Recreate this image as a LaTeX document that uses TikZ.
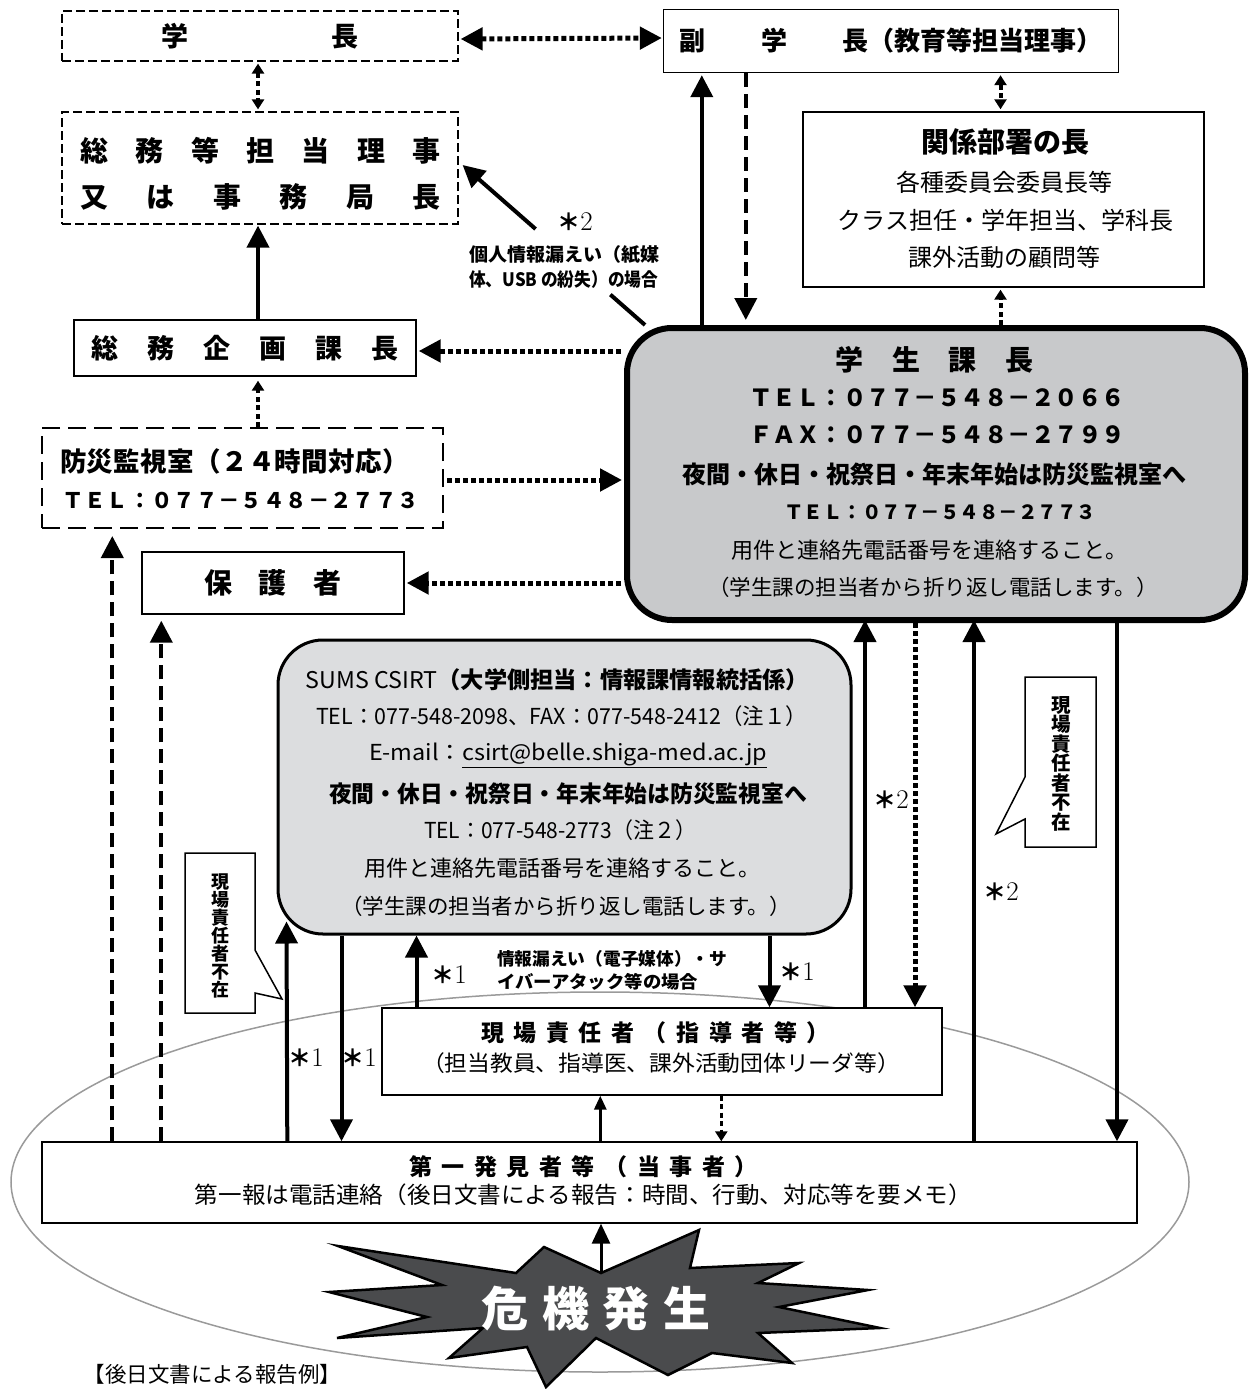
\documentclass[tikz,border=0pt]{standalone}
\usepackage{fontspec}
\usepackage{graphicx}
\setmainfont{Noto Sans CJK JP}
\newfontfamily\lmfont{Latin Modern Roman}
\usetikzlibrary{arrows.meta,calc,shapes.geometric}
\makeatletter
\newcommand\spreadit[2]{\makebox[#1][s]{\spr@first#2\relax}}
\def\spr@first#1{#1\spr@rest}
\def\spr@rest#1{\ifx#1\relax\else\hfill#1\expandafter\spr@rest\fi}
\makeatother
\newcommand\fz[1]{\fontsize{#1pt}{#1pt}\selectfont}
\newcommand\fitw[2]{\resizebox{#1}{\height}{#2}}
\newcommand\astlab[1]{{\bfseries\fz{23}＊}{\lmfont\fz{27}#1}}
\definecolor{gakgray}{HTML}{C8C9CB}
\definecolor{sumsgray}{HTML}{DCDDDF}
\definecolor{stargray}{HTML}{4A4B4D}
\definecolor{ellgray}{HTML}{9A9A9A}
\tikzset{
 sbox/.style={draw, line width=1.4pt, fill=white, inner sep=0pt},
 dbox/.style={draw, line width=1.2pt, dash pattern=on 9pt off 4pt, fill=white, inner sep=0pt},
 ddbox/.style={draw, line width=2pt, dash pattern=on 18pt off 8pt, fill=white, inner sep=0pt},
 txt/.style={inner sep=0pt, text=black},
 bighead/.style={-{Triangle[length=22pt,width=22pt]}},
 solidarr/.style={line width=4pt, bighead},
 dashedarr/.style={line width=4pt, dash pattern=on 14pt off 7pt, bighead},
 dotarr/.style={line width=5pt, dash pattern=on 5pt off 3pt, bighead},
 dotboth/.style={line width=5pt, dash pattern=on 5pt off 3pt, {Triangle[length=22pt,width=22pt]}-{Triangle[length=22pt,width=22pt]}},
 smalldot/.style={line width=4pt, dash pattern=on 5pt off 3.5pt, -{Triangle[length=10pt,width=12pt]}},
 smalldotboth/.style={line width=4pt, dash pattern=on 5pt off 3.5pt, {Triangle[length=10pt,width=12pt]}-{Triangle[length=10pt,width=12pt]}},
 thinarr/.style={line width=3pt, -{Triangle[length=14pt,width=12pt]}},
 callout/.style={draw, line width=1.5pt, fill=white},
 vtxt/.style={inner sep=0pt, align=center},
 ast/.style={inner sep=0pt},
}
\begin{document}
\begin{tikzpicture}[x=1pt,y=-1pt]
\useasboundingbox (0,0) rectangle (1249,1389);

% ellipse
\node[ellipse, draw=ellgray, line width=1.5pt, minimum width=1178pt, minimum height=380pt, inner sep=0pt] (ell) at (600,1182) {};

% boxes
\node[dbox, minimum width=396pt, minimum height=50pt, font={\fz{27}\bfseries}] (gakucho) at (260,36) {学\hspace{143pt}長};
\node[sbox, minimum width=455pt, minimum height=63pt, font={\fz{26}\bfseries}] (fuku) at (891,41) {副\hspace{56pt}学\hspace{55pt}長（教育等担当理事）};

\node[dbox, minimum width=396pt, minimum height=112pt] (riji) at (260,168) {};
\node[txt, font={\fz{28}\bfseries}] (riji1) at (260.5,151) {\spreadit{360pt}{総務等担当理事}};
\node[txt, font={\fz{28}\bfseries}] (riji2) at (260.5,197) {\spreadit{360pt}{又は事務局長}};

\node[sbox, minimum width=401pt, minimum height=175pt] (kankei) at (1003.5,199.5) {};
\node[txt, font={\fz{28}\bfseries}] (kk1) at (1005,142) {関係部署の長};
\node[txt, font={\fz{24}}] (kk2) at (1004.5,182) {各種委員会委員長等};
\node[txt, font={\fz{24}}] (kk3) at (1005.5,220) {クラス担任・学年担当、学科長};
\node[txt, font={\fz{24}}] (kk4) at (1004.5,257) {課外活動の顧問等};

\node[sbox, minimum width=342pt, minimum height=56pt, font={\fz{27}\bfseries}] (kikaku) at (245,348) {\spreadit{308pt}{総務企画課長}};

\node[ddbox, minimum width=401pt, minimum height=100pt] (bosai) at (242.5,478) {};
\node[txt, font={\fz{26.5}\bfseries}] (bs1) at (234.5,461) {\spreadit{349pt}{防災監視室（２４時間対応）}};
\node[txt, font={\fz{21.5}\bfseries}] (bs2) at (240.5,500) {\spreadit{357pt}{ＴＥＬ：０７７－５４８－２７７３}};

\node[sbox, minimum width=262pt, minimum height=62pt, font={\fz{28}\bfseries}] (hogo) at (273,583) {\spreadit{138pt}{保護者}};

% gakusei-ka
\node[draw, line width=6pt, fill=gakgray, rounded corners=45pt, minimum width=618pt, minimum height=292pt, inner sep=0pt] (gak) at (936,474) {};
\node[txt, font={\fz{28}\bfseries}] (g1) at (934.5,360) {\spreadit{198pt}{学生課長}};
\node[txt, font={\fz{23.5}\bfseries}] (g2) at (936,398) {\spreadit{374pt}{ＴＥＬ：０７７－５４８－２０６６}};
\node[txt, font={\fz{23.5}\bfseries}] (g3) at (936,435) {\spreadit{374pt}{ＦＡＸ：０７７－５４８－２７９９}};
\node[txt, font={\fz{24}\bfseries}] (g4) at (934,474) {夜間・休日・祝祭日・年末年始は防災監視室へ};
\node[txt, font={\fz{19.5}\bfseries}] (g5) at (935.5,512) {\spreadit{303pt}{ＴＥＬ：０７７－５４８－２７７３}};
\node[txt, font={\fz{22}}] (g6) at (929,550) {用件と連絡先電話番号を連絡すること。};
\node[txt, font={\fz{21.5}}] (g7) at (933,587) {（学生課の担当者から折り返し電話します。）};

% SUMS CSIRT
\node[draw, line width=3pt, fill=sumsgray, rounded corners=45pt, minimum width=573pt, minimum height=294pt, inner sep=0pt] (sums) at (564.5,787) {};
\node[txt, font={\fz{23}}] (s1) at (557.5,680) {\fitw{503pt}{SUMS CSIRT{\bfseries（大学側担当：情報課情報統括係）}}};
\node[txt, font={\fz{22}}] (s2) at (561.5,716) {\fitw{491pt}{TEL：077-548-2098、FAX：077-548-2412（注１）}};
\node[txt, font={\fz{22}}] (s3) at (568,755) {\fitw{398pt}{E-mail：\underline{csirt@belle.shiga-med.ac.jp}}};
\node[txt, font={\fz{23}\bfseries}] (s4) at (568,794) {\fitw{478pt}{夜間・休日・祝祭日・年末年始は防災監視室へ}};
\node[txt, font={\fz{22}}] (s5) at (560,830) {\fitw{272pt}{TEL：077-548-2773（注２）}};
\node[txt, font={\fz{22}}] (s6) at (562,868) {用件と連絡先電話番号を連絡すること。};
\node[txt, font={\fz{21.5}}] (s7) at (566,906) {（学生課の担当者から折り返し電話します。）};

% genba
\node[sbox, minimum width=560pt, minimum height=87pt] (genba) at (662,1051.5) {};
\node[txt, font={\fz{23}\bfseries}] (gb1) at (655.5,1033) {\spreadit{349pt}{現場責任者（指導者等）}};
\node[txt, font={\fz{22}}] (gb2) at (661,1063) {\fitw{478pt}{（担当教員、指導医、課外活動団体リーダ等）}};

% first finder
\node[sbox, minimum width=1095pt, minimum height=81pt] (fb) at (589.5,1182.5) {};
\node[txt, font={\fz{23}\bfseries}] (fb1) at (583.5,1167) {\spreadit{349pt}{第一発見者等（当事者）}};
\node[txt, font={\fz{23}}] (fb2) at (583.5,1195) {\fitw{777pt}{第一報は電話連絡（後日文書による報告：時間、行動、対応等を要メモ）}};

% star
\draw[line width=2.5pt, fill=stargray, line join=miter]
 (338,1246) -- (516,1273) -- (544,1247) -- (601,1273) -- (699,1230) -- (690,1268)
 -- (799,1263) -- (758,1283) -- (868,1290) -- (779,1307) -- (880,1328) -- (758,1333)
 -- (792,1363) -- (712,1353) -- (668,1375) -- (596,1338) -- (546,1387) -- (527,1347)
 -- (449,1358) -- (483,1328) -- (337,1338) -- (427,1317) -- (329,1292) -- (442,1285) -- cycle;
\coordinate (starTop) at (601,1273);
\node[txt, text=white, font={\fz{47}\bfseries}] (kiki) at (596,1309) {\spreadit{229pt}{危機発生}};

% callouts
\draw[callout] (185,853) -- (255,853) -- (255,950) -- (282,999) -- (255,993) -- (255,1013) -- (185,1013) -- cycle;
\node[vtxt, font={\fz{18}\bfseries}] (cl1) at (220,935.5) {現\\場\\責\\任\\者\\不\\在};
\draw[callout] (1025,677) -- (1025,777) -- (996,834) -- (1025,819) -- (1025,847) -- (1096,847) -- (1096,677) -- cycle;
\node[vtxt, font={\fz{19.5}\bfseries}] (cl2) at (1061,763.5) {現\\場\\責\\任\\者\\不\\在};

% coordinates for connectors
\coordinate (e1) at ($(fuku.south west)+(39,0)$);
\coordinate (f1) at ($(fuku.south west)+(83,0)$);
\coordinate (g1c) at ($(kankei.north)+(-3,0)$);
\coordinate (dS) at ($(gak.north west)+(21,0)$);
\coordinate (dT) at ($(riji.east)+(4,-3)$);
\coordinate (m1) at ($(fb.north west)+(71,0)$);
\coordinate (n1) at ($(fb.north west)+(120,0)$);
\coordinate (o1) at ($(fb.north west)+(246,0)$);
\coordinate (o2) at ($(sums.south west)+(10,-14)$);
\coordinate (p1) at ($(sums.south west)+(65,0)$);
\coordinate (q1) at ($(sums.south west)+(140,0)$);
\coordinate (r1) at ($(sums.south west)+(493,0)$);
\coordinate (s1c) at ($(gak.south west)+(241,0)$);
\coordinate (t1) at ($(gak.south west)+(291,0)$);
\coordinate (u1) at ($(gak.south west)+(350,0)$);
\coordinate (v1) at ($(gak.south west)+(493,0)$);
\coordinate (w1) at ($(genba.south west)+(219,0)$);
\coordinate (x1) at ($(genba.south west)+(340,0)$);

% connectors
\draw[dotboth] ($(gakucho.east)+(2,3)$) -- ($(fuku.west)+(-1,-3)$);
\draw[smalldotboth] ($(gakucho.south)+(-2,2)$) -- ($(riji.north)+(-2,-2)$);
\draw[solidarr, shorten >=1pt] ($(riji.south |- kikaku.north)+(-2,0)$) -- ($(riji.south)+(-2,0)$);
\draw[line width=4pt] (dS) -- ($(dS)!0.19!(dT)$);
\draw[solidarr] ($(dS)!0.60!(dT)$) -- (dT);
\draw[solidarr, shorten >=2pt] (e1 |- gak.north) -- (e1);
\draw[dashedarr, shorten >=5pt] (f1) -- (f1 |- gak.north);
\draw[smalldotboth] ($(g1c |- fuku.south)+(0,2)$) -- ($(g1c)+(0,-2)$);
\draw[smalldot] (g1c |- gak.north) -- ($(kankei.south -| g1c)+(0,2)$);
\draw[dotarr, shorten >=2pt] ($(gak.west |- kikaku.east)+(-3,3)$) -- ($(kikaku.east)+(0,3)$);
\draw[smalldot] ($(bosai.north -| riji.south)+(-2,0)$) -- ($(kikaku.south -| riji.south)+(-2,4)$);
\draw[dotarr] ($(bosai.east)+(3,2)$) -- ($(gak.west |- bosai.east)+(-2,2)$);
\draw[dotarr, shorten >=2pt] ($(gak.west |- hogo.east)+(-3,0)$) -- (hogo.east);
\draw[dashedarr] (m1) -- ($(m1 |- bosai.south)+(0,7)$);
\draw[dashedarr] (n1) -- ($(n1 |- hogo.south)+(0,6)$);
\draw[solidarr] (o1) -- (o2);
\draw[solidarr] (p1) -- (p1 |- fb.north);
\draw[solidarr] (q1 |- genba.north) -- (q1);
\draw[solidarr] (r1) -- (r1 |- genba.north);
\draw[solidarr, shorten >=-3pt] (s1c |- genba.north) -- (s1c);
\draw[dotarr] (t1) -- (t1 |- genba.north);
\draw[solidarr, shorten >=-3pt] (u1 |- fb.north) -- (u1);
\draw[solidarr] (v1) -- (v1 |- fb.north);
\draw[thinarr] (w1 |- fb.north) -- (w1);
\draw[smalldot, line width=3pt] (x1) -- (x1 |- fb.north);
\draw[line width=3pt, -{Triangle[length=20pt,width=18pt]}] (starTop) -- (starTop |- fb.south);

% labels
\node[ast] (a2d) at (575,222) {\astlab{2}};
\node[txt, anchor=west, font={\fz{18.5}\bfseries}] (lab1a) at (469,255) {\fitw{190pt}{個人情報漏えい（紙媒}};
\node[txt, anchor=west, font={\fz{18.5}\bfseries}] (lab1b) at (469,279) {\fitw{189pt}{体、USB の紛失）の場合}};
\node[txt, anchor=west, font={\fz{17.5}\bfseries}] (lab2a) at (497,959) {\fitw{230pt}{情報漏えい（電子媒体）・サ}};
\node[txt, anchor=west, font={\fz{17.5}\bfseries}] (lab2b) at (497,982) {\fitw{201pt}{イバーアタック等の場合}};
\node[ast] (a1o) at (306,1058) {\astlab{1}};
\node[ast] (a1p) at (359,1058) {\astlab{1}};
\node[ast] (a1q) at (449,975) {\astlab{1}};
\node[ast] (a1r) at (797,972) {\astlab{1}};
\node[ast] (a2s) at (891,800) {\astlab{2}};
\node[ast] (a2u) at (1001,892) {\astlab{2}};
\node[txt, font={\fz{21.5}}] (rep) at (212.5,1374) {【後日文書による報告例】};
\end{tikzpicture}
\end{document}
